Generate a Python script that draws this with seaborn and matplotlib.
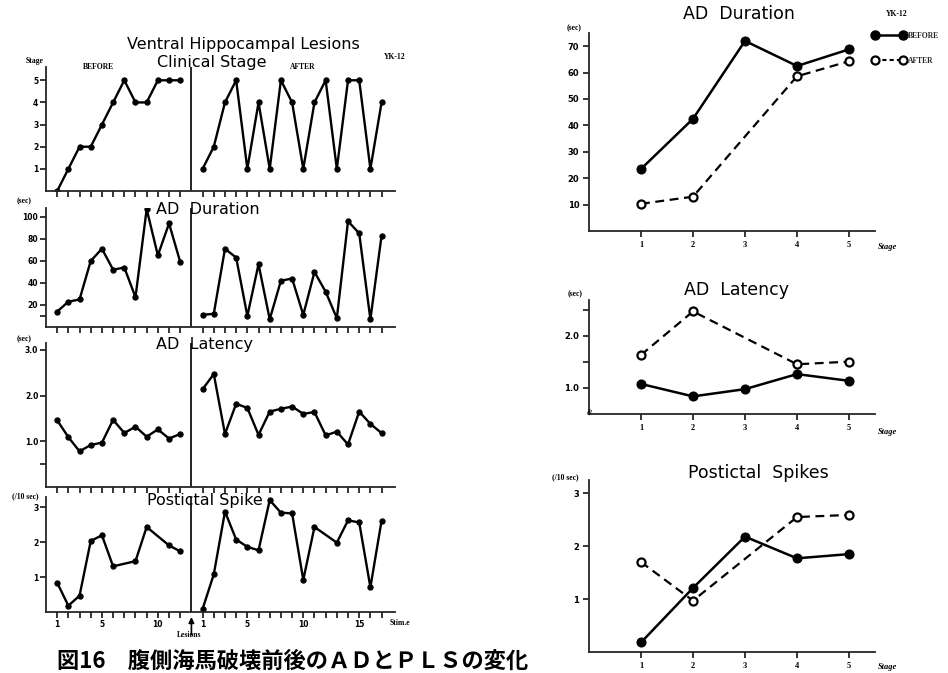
import matplotlib
matplotlib.use("Agg")
import matplotlib.pyplot as plt
import seaborn as sns
from matplotlib.lines import Line2D

# ---------------- data: left (per stimulation) ----------------
before_stim = [1, 2, 3, 4, 5, 6, 7, 8, 9, 10, 11, 12]
after_stim = [1, 2, 3, 4, 5, 6, 7, 8, 9, 10, 11, 12, 13, 14, 15, 16, 17]
stage_before = [0, 1, 2, 2, 3, 4, 5, 4, 4, 5, 5, 5]
stage_after = [1, 2, 4, 5, 1, 4, 1, 5, 4, 1, 4, 5, 1, 5, 5, 1, 4]
dur_before = [14, 23, 25, 60, 71, 52, 54, 27, 107, 65, 94, 59]
dur_after = [11, 12, 71, 63, 10, 57, 7, 42, 44, 11, 50, 32, 8, 96, 85, 7, 83]
lat_before = [1.46, 1.09, 0.78, 0.92, 0.97, 1.47, 1.18, 1.32, 1.10, 1.26, 1.06, 1.16]
lat_after = [2.14, 2.47, 1.16, 1.82, 1.73, 1.14, 1.65, 1.71, 1.76, 1.60, 1.64,
             1.13, 1.21, 0.93, 1.65, 1.38, 1.18]
spike_before_stim = [1, 2, 3, 4, 5, 6, 8, 9, 11, 12]
spike_before = [0.84, 0.18, 0.47, 2.04, 2.20, 1.31, 1.46, 2.44, 1.91, 1.74]
spike_after_stim = [1, 2, 3, 4, 5, 6, 7, 8, 9, 10, 11, 13, 14, 15, 16, 17]
spike_after = [0.09, 1.08, 2.88, 2.08, 1.87, 1.77, 3.21, 2.85, 2.83, 0.92, 2.44,
               1.99, 2.63, 2.57, 0.71, 2.62]

# ---------------- data: right (per clinical stage) ----------------
stages = [1, 2, 3, 4, 5]
after_stages = [1, 2, 4, 5]
r_dur_before = [23.5, 42.5, 72.0, 62.5, 68.8]
r_dur_after = [10.3, 13.0, 58.6, 64.3]
r_lat_before = [1.07, 0.83, 0.97, 1.26, 1.13]
r_lat_after = [1.63, 2.47, 1.45, 1.50]
r_spk_before = [0.18, 1.21, 2.18, 1.77, 1.85]
r_spk_after = [1.70, 0.97, 2.55, 2.59]

left_xlabels = ["1", "5", "10", "1", "5", "10", "15"]

sns.set_theme(style="ticks")
plt.rcParams["font.family"] = ["DejaVu Sans", "Noto Sans CJK JP"]
plt.rcParams["axes.linewidth"] = 1.3

W, H = 948, 673
fig = plt.figure(figsize=(W / 100, H / 100), dpi=100)
fig.patch.set_facecolor("white")


def rect(x0, y0, x1, y1):
    return [x0 / W, 1 - y1 / H, (x1 - x0) / W, (y1 - y0) / H]


def ftext(x, y, s, **kw):
    fig.text(x / W, 1 - y / H, s, **kw)


OFFSET = 13  # after-lesion stimulations are drawn right of the lesion line
tickfont = dict(fontsize=5.5, fontweight="bold")


def left_panel(box, bs, bv, as_, av, ylim, yticks, ylabels, bottom=False):
    ax = fig.add_axes(rect(*box))
    kw = dict(color="black", marker="o", markersize=3.8, linewidth=1.7,
              markeredgecolor="black", ax=ax, legend=False)
    sns.lineplot(x=bs, y=bv, **kw)
    sns.lineplot(x=[s + OFFSET for s in as_], y=av, **kw)
    ax.axvline(OFFSET, color="black", lw=1.2)
    ax.set_xlim(0, 31.2)
    ax.set_ylim(*ylim)
    sns.despine(ax=ax)
    ticks = list(range(1, 13)) + [s + OFFSET for s in range(1, 18)]
    ax.set_xticks(ticks)
    if bottom:
        lab_pos = [1, 5, 10, 1 + OFFSET, 5 + OFFSET, 10 + OFFSET, 15 + OFFSET]
        labs = []
        for t in ticks:
            labs.append(left_xlabels[lab_pos.index(t)] if t in lab_pos else "")
        ax.set_xticklabels(labs, **tickfont)
    else:
        ax.set_xticklabels([])
    ax.set_yticks(yticks)
    ax.set_yticklabels(ylabels, **tickfont)
    ax.tick_params(axis="both", direction="out", length=4, width=1.1, pad=1.5,
                   colors="black")
    ax.set(xlabel="", ylabel="")
    ax.set_facecolor("white")
    return ax


left_panel((46, 67, 395, 191), before_stim, stage_before, after_stim, stage_after,
           (0, 5.6), [1, 2, 3, 4, 5], ["1", "2", "3", "4", "5"])
left_panel((46, 208, 395, 327), before_stim, dur_before, after_stim, dur_after,
           (0, 108), [10, 20, 40, 60, 80, 100], ["", "20", "40", "60", "80", "100"])
left_panel((46, 343, 395, 487), before_stim, lat_before, after_stim, lat_after,
           (0, 3.15), [0.5, 1.0, 2.0, 3.0], ["", "1.0", "2.0", "3.0"])
axb = left_panel((46, 497, 395, 612), spike_before_stim, spike_before,
                 spike_after_stim, spike_after,
                 (0, 3.3), [1, 2, 3], ["1", "2", "3"], bottom=True)

# left texts
tfont = dict(fontsize=11.5, ha="center", va="center", color="black")
ftext(243, 45, "Ventral Hippocampal Lesions", **tfont)
ftext(212, 62, "Clinical Stage", **tfont)
ftext(208, 209, "AD  Duration", **tfont)
ftext(204, 345, "AD  Latency", **tfont)
ftext(205, 501, "Postictal Spike", **tfont)
small = dict(fontsize=5.5, fontweight="bold", ha="center", va="center",
             family="Liberation Serif", color="black")
ftext(35, 61, "Stage", **small)
ftext(98, 67, "BEFORE", **small)
ftext(303, 67, "AFTER", **small)
ftext(395, 57, "YK-12", **small)
ftext(24, 201, "(sec)", **small)
ftext(24, 339, "(sec)", **small)
ftext(25, 496, "(/10 sec)", **small)
ftext(400, 623, "Stim.e", **small)
ftext(189, 635, "Lesions", **small)
axb.annotate("", xy=(OFFSET, -0.02), xycoords=("data", "axes fraction"),
             xytext=(OFFSET, -0.22), textcoords=("data", "axes fraction"),
             arrowprops=dict(arrowstyle="-|>", color="black", lw=1.2,
                             mutation_scale=8))

# caption
fig.text(57 / W, 1 - 650 / H, "図16　腹側海馬破壊前後のＡＤとＰＬＳの変化",
         family=["Noto Sans CJK JP"], fontweight="bold", fontsize=16,
         ha="left", va="top", color="black")


# ---------------- right panels ----------------
def right_panel(box, bv, av, ylim, yticks, ylabels):
    ax = fig.add_axes(rect(*box))
    sns.lineplot(x=stages, y=bv, ax=ax, color="black", marker="o", markersize=6.5,
                 linewidth=1.8, markeredgecolor="black", markerfacecolor="black",
                 legend=False)
    sns.lineplot(x=after_stages, y=av, ax=ax, color="black", marker="o",
                 markersize=5.8, linewidth=1.6, linestyle=(0, (4, 2.5)),
                 markeredgecolor="black", markerfacecolor="white",
                 markeredgewidth=1.6, legend=False)
    ax.set_xlim(0, 5.5)
    ax.set_ylim(*ylim)
    sns.despine(ax=ax)
    ax.set_xticks(stages)
    ax.set_xticklabels([str(s) for s in stages], fontsize=6, fontweight="bold",
                       family="Liberation Serif")
    ax.set_yticks(yticks)
    ax.set_yticklabels(ylabels, fontsize=6, fontweight="bold")
    ax.tick_params(axis="both", direction="out", length=4, width=1.1, pad=3,
                   colors="black")
    ax.set(xlabel="", ylabel="")
    ax.set_facecolor("white")
    return ax


right_panel((589, 33, 875, 231), r_dur_before, r_dur_after, (0, 75),
            [10, 20, 30, 40, 50, 60, 70],
            ["10", "20", "30", "40", "50", "60", "70"])
right_panel((589, 300, 875, 414), r_lat_before, r_lat_after, (0.49, 2.69),
            [1.0, 1.5, 2.0, 2.5], ["1.0", "", "2.0", ""])
right_panel((589, 480, 875, 652), r_spk_before, r_spk_after, (0, 3.25),
            [1, 2, 3], ["1", "2", "3"])

rt = dict(fontsize=12.5, ha="center", va="center", color="black")
ftext(739, 14, "AD  Duration", **rt)
ftext(737, 290, "AD  Latency", **rt)
ftext(758, 473, "Postictal  Spikes", **rt)
ftext(574, 28, "(sec)", **small)
ftext(575, 294, "(sec)", **small)
ftext(565, 477, "(/10 sec)", **small)
sfont = dict(fontsize=6, fontweight="bold", style="italic", ha="center",
             va="center", family="Liberation Serif", color="black")
ftext(887, 247, "Stage", **sfont)
ftext(887, 432, "Stage", **sfont)
ftext(887, 667, "Stage", **sfont)
ftext(897, 14, "YK-12", **small)
ftext(590, 411, "≈", fontsize=7, rotation=70, ha="center", va="center",
      color="black")

handles = [
    Line2D([0], [0], color="black", marker="o", markersize=6.5, lw=1.8,
           markerfacecolor="black"),
    Line2D([0], [0], color="black", marker="o", markersize=5.8, lw=1.5,
           linestyle=(0, (2, 1.5)), markerfacecolor="white", markeredgewidth=1.6),
]
fig.legend(handles, ["BEFORE", "AFTER"], loc="upper left",
           bbox_to_anchor=(866 / W, 1 - 25 / H), frameon=False, numpoints=2,
           handlelength=4.2, handletextpad=0.4, labelspacing=2.2,
           prop=dict(size=5.5, weight="bold", family="Liberation Serif"))

fig.savefig("out.png", dpi=100, facecolor="white")
